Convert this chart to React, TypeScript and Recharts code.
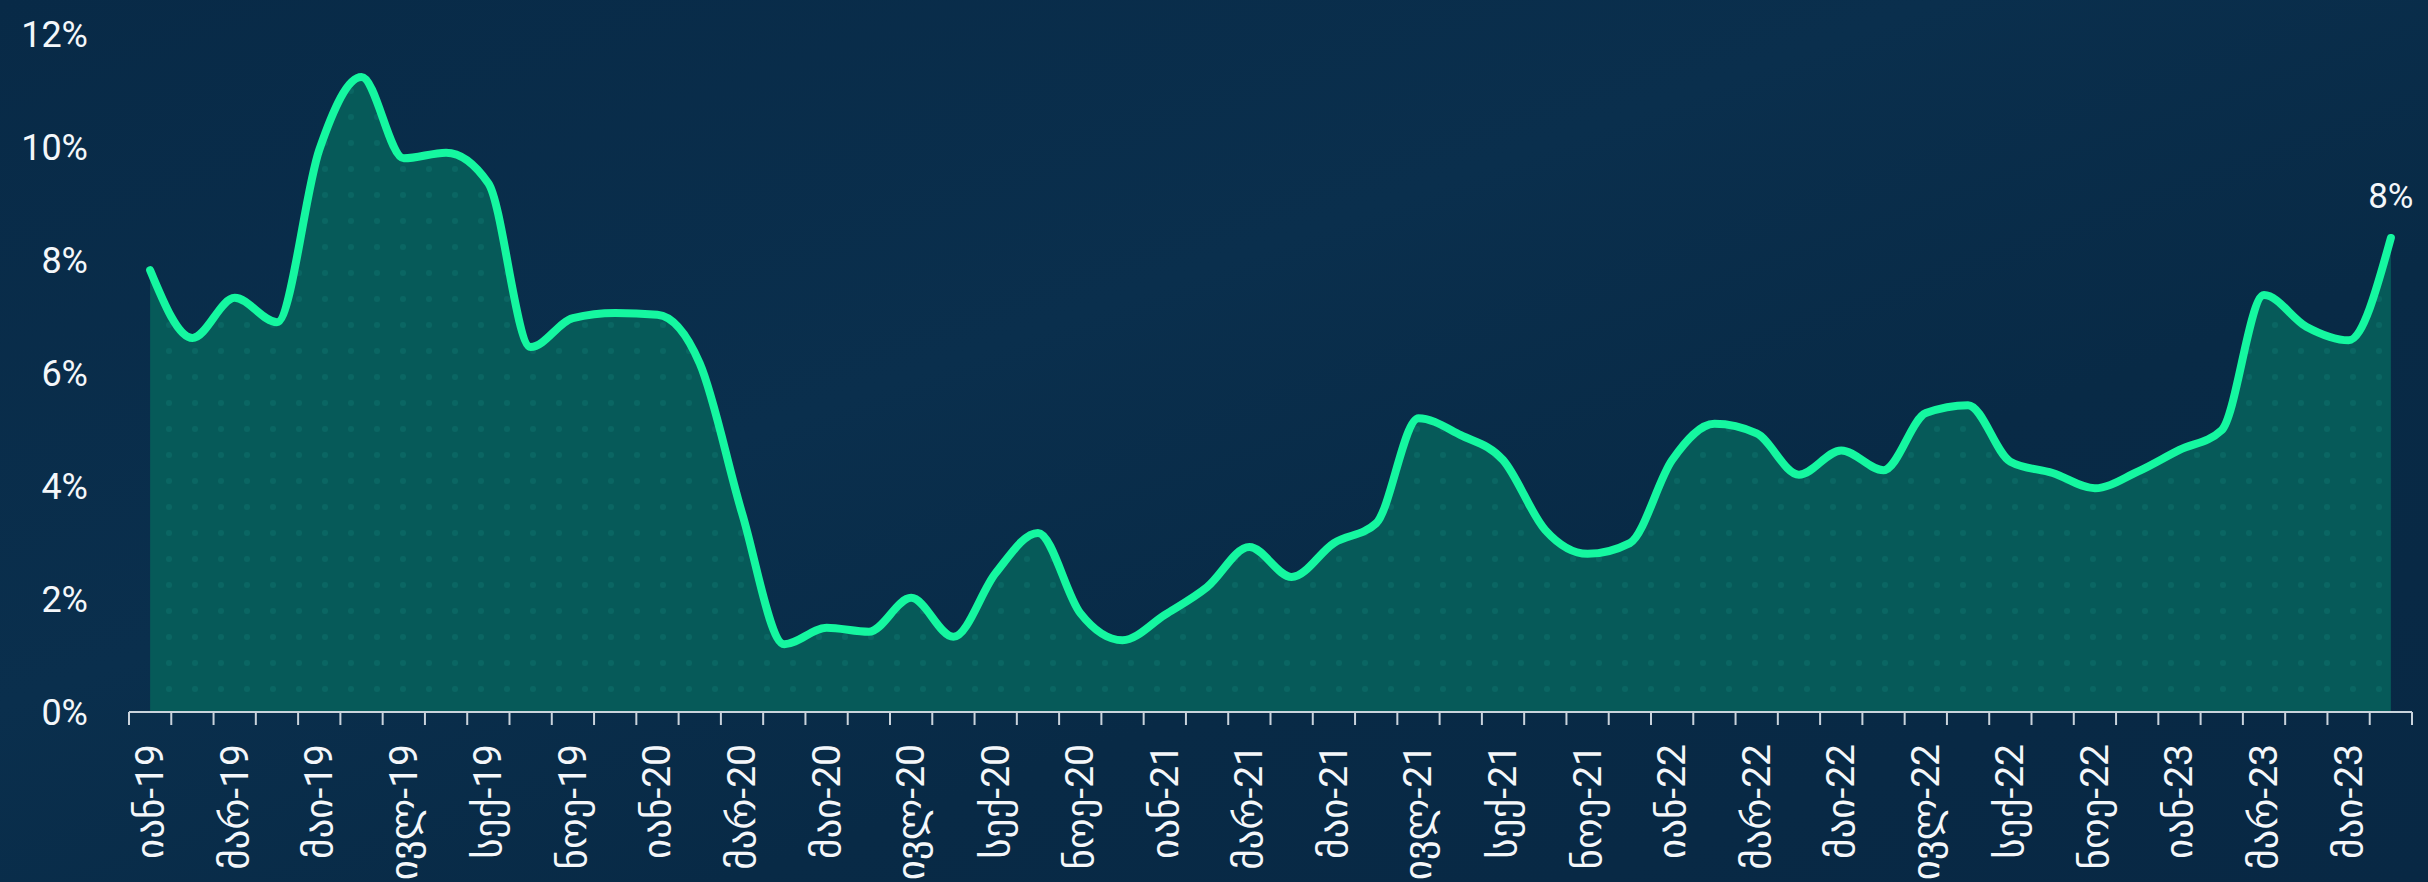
import React from 'react';
import { AreaChart, Area, XAxis, YAxis, LabelList } from 'recharts';

const categories = [
  'იან-19', 'თებ-19', 'მარ-19', 'აპრ-19', 'მაი-19', 'ივნ-19', 'ივლ-19', 'აგვ-19', 'სექ-19', 'ოქტ-19', 'ნოე-19', 'დეკ-19',
  'იან-20', 'თებ-20', 'მარ-20', 'აპრ-20', 'მაი-20', 'ივნ-20', 'ივლ-20', 'აგვ-20', 'სექ-20', 'ოქტ-20', 'ნოე-20', 'დეკ-20',
  'იან-21', 'თებ-21', 'მარ-21', 'აპრ-21', 'მაი-21', 'ივნ-21', 'ივლ-21', 'აგვ-21', 'სექ-21', 'ოქტ-21', 'ნოე-21', 'დეკ-21',
  'იან-22', 'თებ-22', 'მარ-22', 'აპრ-22', 'მაი-22', 'ივნ-22', 'ივლ-22', 'აგვ-22', 'სექ-22', 'ოქტ-22', 'ნოე-22', 'დეკ-22',
  'იან-23', 'თებ-23', 'მარ-23', 'აპრ-23', 'მაი-23', 'ივნ-23',
];

const values = [
  7.82, 6.62, 7.33, 6.9, 9.95, 11.24, 9.8, 9.9, 9.36, 6.46, 6.97, 7.06,
  7.03, 6.17, 3.52, 1.2, 1.49, 1.42, 2.02, 1.33, 2.46, 3.17, 1.75, 1.27,
  1.72, 2.21, 2.92, 2.39, 2.99, 3.34, 5.2, 4.9, 4.46, 3.22, 2.8, 2.99,
  4.46, 5.1, 4.93, 4.2, 4.63, 4.28, 5.29, 5.43, 4.43, 4.23, 3.96, 4.25,
  4.64, 4.99, 7.38, 6.82, 6.58, 8.39,
];

const yTicks = [0, 2, 4, 6, 8, 10, 12];
const labelStep = 2;

const data = categories.map((c, i) => ({ idx: i, name: c, value: values[i] }));
const labelTicks = categories.map((_, i) => i).filter((i) => i % labelStep === 0);
const markTicks = [...categories.map((_, i) => i - 0.5), categories.length - 0.5];
const xDomain = [-0.5, categories.length - 0.5];

const FONT = 'Roboto, "DejaVu Sans", sans-serif';
const TEXT = '#f4f7fa';
const AXIS = '#c9d3dc';

const XLabel = (props: any) => {
  const { x, y, payload } = props;
  const label = categories[payload.value] ?? '';
  return (
    <text
      x={x}
      y={y}
      transform={`rotate(-90, ${x}, ${y})`}
      textAnchor="end"
      dominantBaseline="central"
      fill={TEXT}
      fontSize={39}
      fontFamily={FONT}
    >
      {label}
    </text>
  );
};

const NoTick = () => <g />;

const EndLabel = (props: any) => {
  const { x, y, index, value } = props;
  if (index !== values.length - 1) return null;
  return (
    <text x={x} y={y - 30} textAnchor="middle" fill={TEXT} fontSize={35} fontFamily={FONT}>
      {`${Math.round(value)}%`}
    </text>
  );
};

export default function App() {
  return (
    <div
      style={{
        position: 'fixed',
        left: 0,
        top: 0,
        width: 2428,
        height: 882,
        background:
          'linear-gradient(160deg, #082a47 0%, #0a2f4d 40%, #082a46 65%, #082844 100%)',
      }}
    >
      <AreaChart
        width={2428}
        height={882}
        data={data}
        margin={{ top: 34, right: 16, left: 0, bottom: 0 }}
      >
        <defs>
          <pattern id="dots" width="26" height="26" patternUnits="userSpaceOnUse">
            <rect width="26" height="26" fill="#065a59" />
            <circle cx="13" cy="13" r="3" fill="#0c6b67" opacity="0.7" />
          </pattern>
        </defs>
        <XAxis
          xAxisId="a_marks"
          dataKey="idx"
          type="number"
          domain={xDomain}
          ticks={markTicks}
          tick={<NoTick />}
          interval={0}
          height={2}
          tickSize={13}
          tickLine={{ stroke: AXIS, strokeWidth: 2 }}
          axisLine={{ stroke: AXIS, strokeWidth: 2 }}
          allowDataOverflow
        />
        <XAxis
          xAxisId="b_labels"
          dataKey="idx"
          type="number"
          domain={xDomain}
          ticks={labelTicks}
          interval={0}
          tick={<XLabel />}
          tickLine={false}
          axisLine={false}
          tickMargin={24}
          height={168}
          allowDataOverflow
        />
        <YAxis
          domain={[0, 12]}
          ticks={yTicks}
          tickFormatter={(v: number) => `${v}%`}
          axisLine={false}
          tickLine={false}
          width={129}
          tickMargin={35}
          tick={{ fill: TEXT, fontSize: 36, fontFamily: FONT }}
        />
        <Area
          xAxisId="b_labels"
          dataKey="value"
          type="monotone"
          stroke="#15f7a0"
          strokeWidth={8}
          strokeLinecap="round"
          fill="url(#dots)"
          fillOpacity={1}
          isAnimationActive={false}
          dot={false}
          activeDot={false}
        >
          <LabelList dataKey="value" content={<EndLabel />} />
        </Area>
      </AreaChart>
    </div>
  );
}
